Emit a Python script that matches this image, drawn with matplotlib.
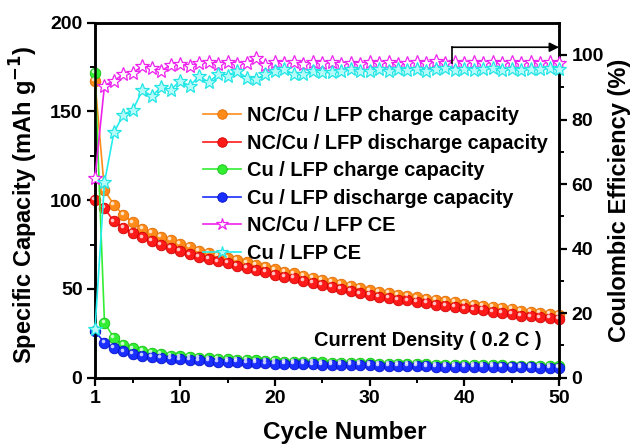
import matplotlib
matplotlib.use("Agg")
import matplotlib.pyplot as plt
import matplotlib.transforms as mtransforms
from matplotlib.ticker import MultipleLocator, FixedLocator

plt.rcParams['font.family'] = ['Liberation Sans', 'DejaVu Sans']
plt.rcParams['font.weight'] = 'bold'

cycles = list(range(1, 51))

ncu_charge = [167, 105.5, 97.5, 91.5, 87.5, 84, 81.5, 79.5, 77.5, 75.5,
              73.5, 71.5, 70.2, 68.8, 67.6, 66.2, 65, 63.6, 62.4, 61,
              59.8, 58.8, 57.4, 56.3, 55.2, 54, 52.9, 51.8, 50.4, 49.2,
              48.2, 47.6, 46.7, 46.1, 45.2, 44.6, 43.7, 43.2, 42.6, 41.7,
              41.1, 40.6, 39.7, 39.2, 38.6, 37.8, 37.2, 36.6, 36.1, 35.5]
ncu_discharge = [100, 95.5, 88, 84.5, 81.5, 79, 77, 75, 73, 71.5,
                 69.5, 68, 67, 65.5, 64.5, 63, 62, 60.5, 59.5, 58,
                 57, 56, 54.5, 53.5, 52.5, 51, 50, 49, 47.5, 46.5,
                 45.5, 45, 44, 43.5, 42.5, 42, 41, 40.5, 40, 39,
                 38.5, 38, 37, 36.5, 36, 35, 34.5, 34, 33.5, 33]
cu_charge = [171.5, 31, 22.4, 18.5, 16.5, 15, 14, 13.2, 12.5, 12,
             11.6, 11.2, 10.9, 10.6, 10.3, 10.1, 9.9, 9.7, 9.5, 9.3,
             9.1, 9, 8.9, 8.7, 8.6, 8.5, 8.4, 8.3, 8.2, 8.1,
             8, 7.9, 7.8, 7.7, 7.6, 7.5, 7.4, 7.4, 7.3, 7.2,
             7.1, 7, 7, 6.9, 6.8, 6.8, 6.7, 6.6, 6.5, 6.4]
cu_discharge = [26.5, 19.5, 16.7, 14.8, 13.5, 12.5, 11.8, 11.2, 10.7, 10.3,
                10, 9.7, 9.4, 9.1, 8.9, 8.7, 8.5, 8.3, 8.1, 8,
                7.8, 7.7, 7.6, 7.5, 7.4, 7.3, 7.2, 7.1, 7, 6.9,
                6.8, 6.7, 6.6, 6.5, 6.5, 6.4, 6.3, 6.3, 6.2, 6.1,
                6.1, 6, 6, 5.9, 5.9, 5.8, 5.8, 5.7, 5.7, 5.6]
ncu_ce = [62, 90.5, 92, 94, 94.5, 96.5, 96, 95, 97, 97.3,
          96.5, 97.6, 97.7, 97.2, 97.8, 97.2, 97.5, 99, 96.8, 97.7,
          97.5, 97.8, 97.2, 97.7, 97.4, 97.8, 97.3, 97.6, 97.2, 97.8,
          97.4, 97.7, 97.3, 97.6, 97.9, 97.4, 98, 97.5, 97.8, 97.4,
          97.9, 97.5, 97.8, 97.4, 97.9, 97.6, 97.8, 97.5, 97.9, 97.6]
cu_ce = [15, 60.5, 76, 81.5, 83, 89, 87.3, 90, 89.2, 92,
         90.4, 93.5, 91.5, 94, 93.6, 95, 93, 92.5, 94, 95,
         95.5, 94, 94, 95, 94.6, 94.6, 95.1, 95.6, 95, 95,
         95.5, 95, 95.8, 95.2, 95.6, 95, 95.5, 96, 95.3, 95.8,
         95.2, 95.6, 95.9, 95.3, 95.7, 95.4, 95.8, 95.5, 95.9, 95.6]

x_ticks = [1, 10, 20, 30, 40, 50]

fig = plt.figure(figsize=(6.36, 4.45), dpi=100)
ax = fig.add_axes([95/636, 1 - 377.7/445, 464/636, 355/445])
ax2 = ax.twinx()

lw = 1.2
ms = 7.6


def ball(axis, y, color, edge, label):
    line, = axis.plot(cycles, y, '-o', color=color, lw=lw, ms=ms,
                      mfc=color, mec=edge, mew=0.6, label=label,
                      clip_on=False, zorder=3)
    # glossy highlight on each sphere
    off = mtransforms.offset_copy(axis.transData, fig=fig, x=-1.3, y=1.3,
                                  units='points')
    axis.plot(cycles, y, 'o', ms=2.6, mfc='white', mec='none', alpha=0.75,
              transform=off, clip_on=False, zorder=4)
    return line


h1 = ball(ax, ncu_charge, '#FF8C1A', '#E06A00', 'NC/Cu / LFP charge capacity')
h2 = ball(ax, ncu_discharge, '#FF1A1A', '#D00000', 'NC/Cu / LFP discharge capacity')
h3 = ball(ax, cu_charge, '#33EE33', '#10C010', 'Cu / LFP charge capacity')
h4 = ball(ax, cu_discharge, '#1A2EFF', '#0010C8', 'Cu / LFP discharge capacity')

h5, = ax2.plot(cycles, ncu_ce, '-*', color='#EE22EE', lw=lw, ms=10,
               mfc='white', mec='#EE22EE', mew=0.9,
               label='NC/Cu / LFP CE', clip_on=False, zorder=3)
h6, = ax2.plot(cycles, cu_ce, '-*', color='#22EEEE', lw=lw, ms=10,
               mfc='#B8FAFA', mec='#22E6E6', mew=0.9,
               label='Cu / LFP CE', clip_on=False, zorder=3)

ax.set_xlim(1, 50)
ax.set_ylim(0, 200)
ax2.set_ylim(0, 110)

ax.xaxis.set_major_locator(FixedLocator(x_ticks))
ax.xaxis.set_minor_locator(FixedLocator([5, 15, 25, 35, 45]))
ax.yaxis.set_major_locator(MultipleLocator(50))
ax.yaxis.set_minor_locator(MultipleLocator(25))
ax2.yaxis.set_major_locator(FixedLocator([0, 20, 40, 60, 80, 100]))
ax2.yaxis.set_minor_locator(FixedLocator([10, 30, 50, 70, 90]))

for a in (ax, ax2):
    for s in a.spines.values():
        s.set_linewidth(1.8)
    a.tick_params(which='major', direction='out', length=6, width=1.6,
                  labelsize=14, pad=3)
    a.tick_params(which='minor', direction='out', length=3.5, width=1.4)
ax.tick_params(axis='x', top=False, which='both')
for lab in ax.get_xticklabels() + ax.get_yticklabels() + ax2.get_yticklabels():
    lab.set_fontweight('bold')

xl = ax.set_xlabel('Cycle Number', fontsize=17.5, fontweight='bold')
ax.xaxis.set_label_coords(0.539, -0.153)
xl.set_va('center')
yl = ax.set_ylabel('Specific Capacity (mAh g$^{\\mathbf{-1}}$)', fontsize=17,
                   fontweight='bold')
ax.yaxis.set_label_coords(-0.153, 0.486)
yl.set_va('center')
yl.set_ha('center')
yr = ax2.set_ylabel('Coulombic Efficiency (%)', fontsize=17,
                    fontweight='bold')
ax2.yaxis.set_label_coords(1.131, 0.5)
yr.set_va('center')
yr.set_ha('center')

ax.text(0.472, 0.106, 'Current Density ( 0.2 C )', transform=ax.transAxes,
        fontsize=14.4, fontweight='bold', va='center', ha='left')

# pointer toward the efficiency axis
ax2.plot([38.7, 38.7], [97.4, 102.4], color='black', lw=1.2, zorder=5)
ax2.annotate('', xy=(50, 102.4), xytext=(38.7, 102.4),
             arrowprops=dict(arrowstyle='-|>', color='black', lw=1.2,
                             mutation_scale=14, shrinkA=0, shrinkB=0),
             annotation_clip=False, zorder=5)

leg = ax2.legend(handles=[h1, h2, h3, h4, h5, h6],
                 loc='upper left', bbox_to_anchor=(203/636, 1 - 106/445),
                 bbox_transform=fig.transFigure, frameon=False,
                 prop={'size': 14.4, 'weight': 'bold'}, handlelength=1.9,
                 handletextpad=0.3, labelspacing=0.43, borderpad=0,
                 borderaxespad=0, markerscale=0.9)

fig.savefig('out.png', dpi=100)
